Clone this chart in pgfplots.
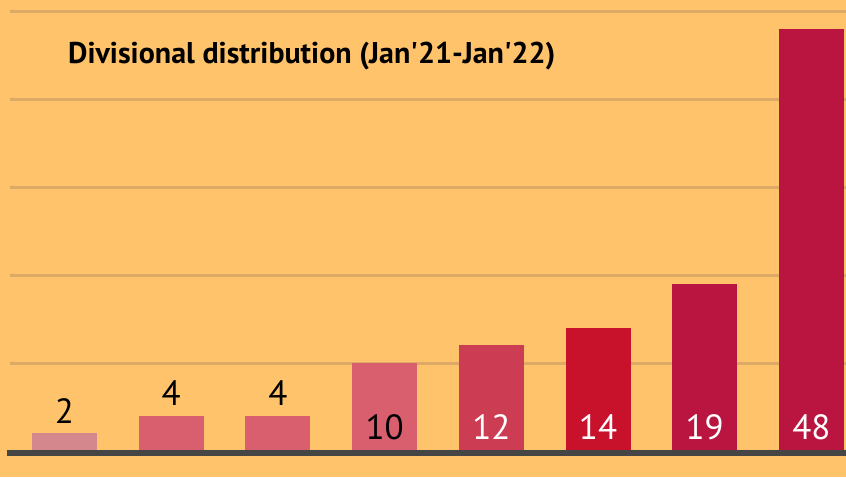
\documentclass[border=0pt]{standalone}
\usepackage{pgfplots}
\pgfplotsset{compat=1.18}
\usepackage{fontspec}
\setmainfont{PT Sans}
\definecolor{bg}{HTML}{FFC46B}
\definecolor{gridc}{HTML}{DCA966}
\definecolor{axc}{HTML}{454545}
\definecolor{c1}{HTML}{D5878E}
\definecolor{c2}{HTML}{D95F6F}
\definecolor{c3}{HTML}{CC3C52}
\definecolor{c4}{HTML}{C8122C}
\definecolor{c5}{HTML}{BA1540}
\begin{document}
\begin{tikzpicture}[x=1pt,y=1pt]
\fill[bg] (0,0) rectangle (846,477);
\useasboundingbox (0,0) rectangle (846,477);
\begin{axis}[
  at={(10pt,26pt)}, anchor=south west,
  scale only axis, width=836pt, height=440pt,
  xmin=-0.511, xmax=7.324, ymin=0, ymax=50,
  axis line style={draw=none}, clip=false,
  ytick={10,20,30,40,50}, yticklabels={}, xtick=\empty,
  major tick length=0pt,
  ymajorgrids, grid style={gridc, line width=3pt},
  every axis plot/.append style={ybar, bar width=65pt, bar shift=0pt, draw=none},
]
\addplot[fill=c1] coordinates {(0,2)};
\addplot[fill=c2] coordinates {(1,4)};
\addplot[fill=c2] coordinates {(2,4)};
\addplot[fill=c2] coordinates {(3,10)};
\addplot[fill=c3] coordinates {(4,12)};
\addplot[fill=c4] coordinates {(5,14)};
\addplot[fill=c5] coordinates {(6,19)};
\addplot[fill=c5] coordinates {(7,48)};
% labels above bars
\addplot[only marks, mark=none, fill=none,
  nodes near coords, point meta=explicit symbolic,
  every node near coord/.style={anchor=south, yshift=8pt, font=\fontsize{35}{35}\selectfont, text=black, inner sep=2pt}]
  coordinates {(0,2) [2] (1,4) [4] (2,4) [4]};
% labels inside bars
\addplot[only marks, mark=none, fill=none,
  nodes near coords, point meta=explicit symbolic,
  every node near coord/.style={anchor=south, yshift=9pt, font=\fontsize{35}{35}\selectfont, text=black, inner sep=2pt}]
  coordinates {(3,0) [10]};
\addplot[only marks, mark=none, fill=none,
  nodes near coords, point meta=explicit symbolic,
  every node near coord/.style={anchor=south, yshift=9pt, font=\fontsize{35}{35}\selectfont, text=white, inner sep=2pt}]
  coordinates {(4,0) [12] (5,0) [14] (6,0) [19] (7,0) [48]};
\end{axis}
\draw[axc, line width=6pt] (7,24.5) -- (846,24.5);
\node[anchor=west, inner sep=0pt, font=\bfseries\fontsize{30}{30}\selectfont] at (68,421) {Divisional distribution (Jan\textquotesingle 21-Jan\textquotesingle 22)};
\end{tikzpicture}
\end{document}
